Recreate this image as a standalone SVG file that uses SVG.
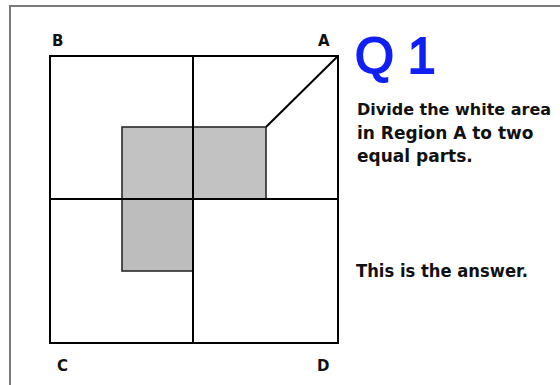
<svg xmlns="http://www.w3.org/2000/svg" width="560" height="385" viewBox="0 0 560 385">
<style>
.frame{fill:none;stroke:#7a7a7a;stroke-width:2}
.shade{fill:#c2c2c2;stroke:#2a2a2a;stroke-width:1.6}
.shade2{fill:#bdbdbd;stroke:#2a2a2a;stroke-width:1.6}
.line{fill:none;stroke:#000;stroke-width:2}
.lbl{font-family:"DejaVu Sans",sans-serif;font-weight:bold;font-size:15px;fill:#111}
.body{font-family:"DejaVu Sans",sans-serif;font-weight:bold;font-size:17px;fill:#111}
.title{font-family:"Liberation Sans",Arial,sans-serif;font-size:50px;fill:#1020f5;stroke:#1020f5;stroke-width:2}
</style>
<rect width="560" height="385" fill="#fff"/>
<rect class="frame" x="10" y="6" width="600" height="420"/>
<g id="shaded">
<rect class="shade" x="122" y="127" width="144" height="72"/>
<rect class="shade2" x="122" y="199" width="71" height="72"/>
</g>
<g id="square">
<rect class="line" x="50" y="56" width="288" height="287"/>
<line class="line" x1="193" y1="56" x2="193" y2="343"/>
<line class="line" x1="50" y1="199" x2="338" y2="199"/>
<line class="line" x1="266" y1="127" x2="338" y2="56"/>
</g>
<g id="labels">
<text class="lbl" x="52" y="46">B</text>
<text class="lbl" x="318" y="46">A</text>
<text class="lbl" x="57" y="371">C</text>
<text class="lbl" x="317" y="371">D</text>
</g>
<g id="text">
<text class="title" x="355" y="73">Q 1</text>
<text class="body" x="357" y="115" style="font-size:16px">Divide the white area</text>
<text class="body" x="357" y="139">in Region A to two</text>
<text class="body" x="357" y="162">equal parts.</text>
<text class="body" x="356" y="277" textLength="172" lengthAdjust="spacingAndGlyphs">This is the answer.</text>
</g>
</svg>
